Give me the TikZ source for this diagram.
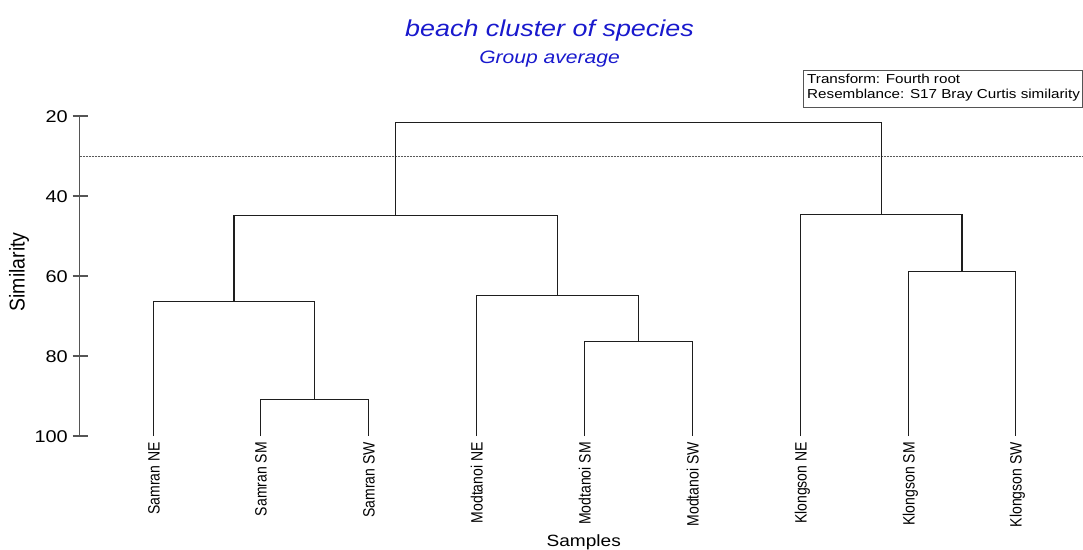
\documentclass[tikz,border=0pt]{standalone}
\usepackage{graphicx}
\usepackage{fontspec}
\setmainfont{Liberation Sans}[FakeStretch=1.17]
\newfontfamily\vfont{Liberation Sans}
\definecolor{titleblue}{RGB}{25,25,205}
\definecolor{linegray}{RGB}{30,30,30}
\definecolor{axisgray}{RGB}{85,85,85}
\begin{document}
\begin{tikzpicture}[x=1pt,y=-1pt,
  dendro/.style={draw=linegray,line width=1.3pt},
  axisline/.style={draw=axisgray,line width=1.2pt},
  cutline/.style={draw=black!65,line width=0.9pt,dash pattern=on 2pt off 1pt},
  ticklab/.style={anchor=base east,inner sep=0pt,font=\fontsize{17}{17}\selectfont},
  leaflab/.style={rotate=90,anchor=base east,inner sep=0pt,font=\vfont\fontsize{14}{14}\selectfont},
  legtext/.style={anchor=base west,inner sep=0pt,font=\fontsize{13}{13}\selectfont}]
\useasboundingbox (0,0) rectangle (1083,549);
% titles
\node[anchor=base,inner sep=0pt,text=titleblue,font=\itshape\fontsize{23}{23}\selectfont] (title) at (549.5,36) {beach cluster of species};
\node[anchor=base,inner sep=0pt,text=titleblue,font=\itshape\fontsize{18}{18}\selectfont] (subtitle) at (549.5,63) {Group average};
% legend
\draw[draw=axisgray,line width=0.9pt] (803,70) rectangle (1082,107);
\node[legtext] (leg1) at (807,83) {Transform: Fourth root};
\node[legtext] (leg2) at (807,98) {Resemblance: S17 Bray Curtis similarity};
% axis
\coordinate (atop) at (79.5,116);
\coordinate (abot) at (79.5,436);
\draw[axisline] (atop) -- (abot);
\foreach \v/\yy in {20/116,40/196,60/276,80/356,100/436}{
  \coordinate (t\v) at (79.5,\yy);
  \draw[axisline] ([xshift=-7pt]t\v) -- ([xshift=8pt]t\v);
  \node[ticklab] (tl\v) at (68,\yy+6) {\v};
}
\node[rotate=90,inner sep=0pt,font=\vfont\fontsize{19.5}{19.5}\selectfont] (ylab) at (19,272) {\scalebox{1}[1.1]{Similarity}};
\node[anchor=base,inner sep=0pt,font=\fontsize{16.3}{16.3}\selectfont] (xlab) at (583.7,546) {Samples};
% cut line
\coordinate (cutL) at (79.5,156);
\coordinate (cutR) at (1083,156);
\draw[cutline] (cutL) -- (cutR);
% leaves
\foreach \i/\xx/\name in {1/153.5/Samran NE,2/260.5/Samran SM,3/368.5/Samran SW,
  4/476.5/Modtanoi NE,5/584.5/Modtanoi SM,6/692.5/Modtanoi SW,
  7/800.5/Klongson NE,8/908.5/Klongson SM,9/1015.5/Klongson SW}{
  \coordinate (leaf\i) at (\xx,436);
  \node[leaflab] (lab\i) at (\xx+6,442) {\scalebox{1}[1.17]{\name}};
}
% joins
\coordinate (sA) at (314.5,399.5);
\coordinate (sB) at (234,301.5);
\coordinate (mA) at (638.5,341.5);
\coordinate (mB) at (557.5,295.5);
\coordinate (sm) at (395.5,215.5);
\coordinate (kA) at (962,271.5);
\coordinate (kB) at (881.5,214.5);
\coordinate (top) at (638.5,122.5);
\draw[dendro] (leaf2) |- (sA) -| (leaf3);
\draw[dendro] (leaf1) |- (sB) -| (sA);
\draw[dendro] (leaf5) |- (mA) -| (leaf6);
\draw[dendro] (leaf4) |- (mB) -| (mA);
\draw[dendro] (sB) |- (sm) -| (mB);
\draw[dendro] (leaf8) |- (kA) -| (leaf9);
\draw[dendro] (leaf7) |- (kB) -| (kA);
\draw[dendro] (sm) |- (top) -| (kB);
\end{tikzpicture}
\end{document}
